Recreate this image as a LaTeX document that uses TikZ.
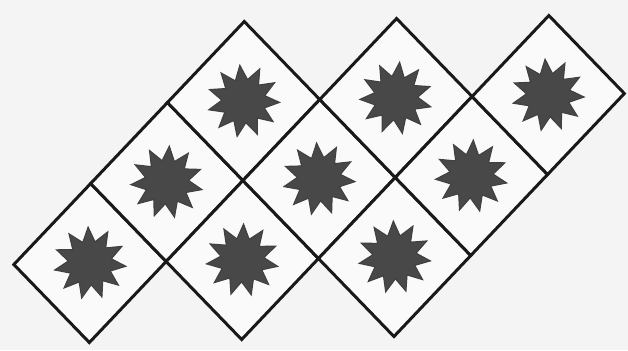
\documentclass[tikz,border=0pt]{standalone}
\usetikzlibrary{shapes.geometric}
\definecolor{paper}{RGB}{244,244,244}
\definecolor{cellbg}{RGB}{250,250,250}
\definecolor{starcol}{RGB}{72,72,72}
\begin{document}
\begin{tikzpicture}[x=0.01cm,y=-0.01cm,
  cellbox/.style={draw=black!90, line width=0.85pt, line join=miter, fill=cellbg},
  starbox/.style={star, star points=11, star point ratio=1.65, minimum size=0.72cm,
    inner sep=0pt, fill=starcol, draw=black!75, line width=0.3pt}]
\fill[paper] (0,0) rectangle (628,350);
\useasboundingbox (0,0) rectangle (628,350);
% cell centres on the tilted lattice
\foreach \a/\b [count=\n] in {0/0,1/0,2/0,1/1,2/1,3/1,2/2,3/2,4/2} {
  \coordinate (c\n) at ({90+76.8*\a+75.5*\b},{263-81*\a+78*\b});
}
% diamonds
\foreach \n in {1,...,9} {
  \draw[cellbox] (c\n) ++(-76.15,1.5) -- ++(76.8,-81) -- ++(75.5,78) -- ++(-76.8,81) -- cycle;
}
% stars
\foreach \n/\r in {1/3,2/-4,3/6,4/-2,5/4,6/-6,7/2,8/-3,9/5} {
  \node[starbox, rotate=\r] (s\n) at (c\n) {};
}
\end{tikzpicture}
\end{document}
